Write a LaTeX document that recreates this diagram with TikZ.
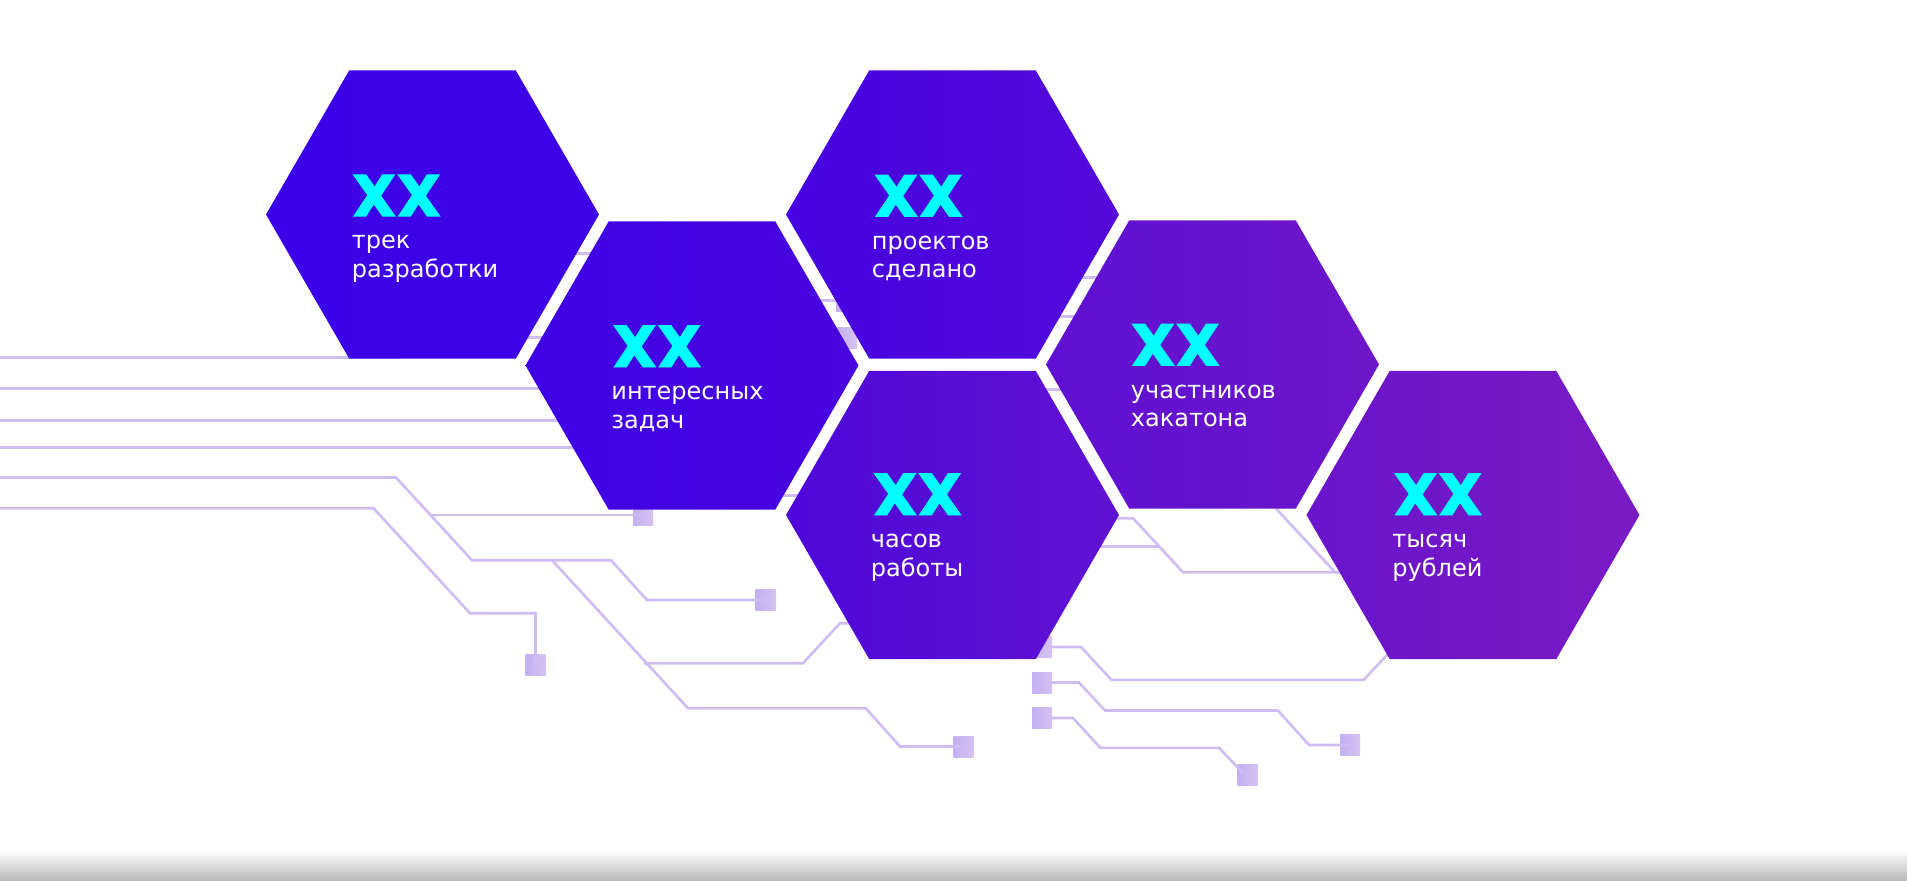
\documentclass[tikz,border=0pt]{standalone}
\usepackage{fontspec}
\setmainfont{DejaVu Sans}
\newfontfamily\numfont{Poppins}[BoldFeatures={FakeBold=1.6,FakeStretch=1.06}]
\usetikzlibrary{positioning,calc,backgrounds,shapes.geometric}
\definecolor{tracecol}{HTML}{CFBCF2}
\definecolor{padleft}{HTML}{C2B0F3}
\definecolor{padright}{HTML}{D6C2F1}
\definecolor{cyanxx}{HTML}{00FFFF}
\tikzset{
  hexa/.style    ={regular polygon,regular polygon sides=6,minimum size=166.5pt,
                   inner sep=0pt,outer sep=0pt},
  numtxt/.style  ={anchor=base west,inner sep=0pt,text=cyanxx,
                   font=\numfont\bfseries\fontsize{29.5}{29.5}\selectfont},
  captxt/.style  ={inner sep=0pt,text=white,align=left,
                   font=\fontsize{12}{14.35}\selectfont},
  padbox/.style  ={rectangle,inner sep=0pt,minimum width=10pt,minimum height=10.5pt,
                   left color=padleft,right color=padright},
  trace/.style   ={draw=tracecol,line width=1.3pt},
}

\begin{document}
\begin{tikzpicture}[x=.5pt,y=-.5pt]
\useasboundingbox (0,-.5) rectangle (1907,879.5);

% ---- hexagons ----------------------------------------------------------
\node[hexa,left color={rgb,255:red,60;green,0;blue,232},right color={rgb,255:red,62;green,0;blue,230}]  (H1) at (432.5,214) {};
\node[hexa,left color={rgb,255:red,63;green,0;blue,230},right color={rgb,255:red,74;green,6;blue,222}]  (H2) at (692,365) {};
\node[hexa,left color={rgb,255:red,70;green,4;blue,224},right color={rgb,255:red,84;green,9;blue,218}]  (H3) at (952.5,214) {};
\node[hexa,left color={rgb,255:red,79;green,8;blue,218},right color={rgb,255:red,96;green,18;blue,210}] (H4) at (952.5,514.5) {};
\node[hexa,left color={rgb,255:red,94;green,16;blue,210},right color={rgb,255:red,110;green,22;blue,202}] (H5) at (1212.5,364) {};
\node[hexa,left color={rgb,255:red,106;green,20;blue,204},right color={rgb,255:red,122;green,26;blue,196}] (H6) at (1473,514.5) {};

% ---- texts --------------------------------------------------------------
\node[numtxt] (N1) at ($(H1)+(-81,1.7)$) {XX};
\node[captxt,below right=9.2pt and 0pt of N1.south west] (C1) {трек\\разработки};
\node[numtxt] (N2) at ($(H2)+(-80,1.5)$) {XX};
\node[captxt,below right=9.2pt and -.5pt of N2.south west] (C2) {интересных\\задач};
\node[numtxt] (N3) at ($(H3)+(-79,2)$) {XX};
\node[captxt,below right=9.2pt and -1pt of N3.south west] (C3) {проектов\\сделано};
\node[numtxt] (N4) at ($(H4)+(-80,0)$) {XX};
\node[captxt,below right=9.2pt and -1pt of N4.south west] (C4) {часов\\работы};
\node[numtxt] (N5) at ($(H5)+(-82,1)$) {XX};
\node[captxt,below right=9.2pt and 0pt of N5.south west] (C5) {участников\\хакатона};
\node[numtxt] (N6) at ($(H6)+(-80,0)$) {XX};
\node[captxt,below right=9.2pt and -.5pt of N6.south west] (C6) {тысяч\\рублей};

\begin{scope}[on background layer]
% ---- bottom edge --------------------------------------------------------
\path[top color=white,bottom color=black!28] (0,850) rectangle (1907,880);

% ---- pads ---------------------------------------------------------------
\node[padbox] (P1)  at (643,514.5) {};
\node[padbox] (P2)  at (765.5,599.5) {};
\node[padbox] (P3)  at (535.5,664.5) {};
\node[padbox] (P4)  at (963.5,746) {};
\node[padbox] (P5)  at (1042,646.5) {};
\node[padbox] (P6)  at (1042,682) {};
\node[padbox] (P7)  at (1042,717.5) {};
\node[padbox] (P8)  at (1350,744.5) {};
\node[padbox] (P9)  at (1247.5,774) {};
\node[padbox] (P10) at (846,300.5) {};
\node[padbox] (P11) at (846.5,337.5) {};

% ---- free ends ----------------------------------------------------------
\coordinate (L1) at (0,357);
\coordinate (L2) at (0,387.7);
\coordinate (L3) at (0,420);
\coordinate (L4) at (0,447);
\coordinate (L5) at (0,477);
\coordinate (L6) at (0,507.7);
\coordinate (J1) at (431,514.5);
\coordinate (J2) at (552,559.7);
\coordinate (J3) at (644,662.7);
\coordinate (J4) at (1159.6,546);
\coordinate (J5) at (1335,571.7);

% ---- left traces --------------------------------------------------------
\draw[trace] (L1) -- (400,357);
\draw[trace] (L2) -- (600,387.7);
\draw[trace] (L3) -- (600,420);
\draw[trace] (L4) -- (600,447);
\draw[trace] (L5) -- (396,477) -- (472,559.7) -- (611,559.7) -- (647,599.5) -- (P2.center);
\draw[trace] (L6) -- (373.5,507.7) -- (470,612.7) -- (535.5,612.7) -- (P3.center);
\draw[trace] (J1) -- (P1.center);
\draw[trace] (J2) -- (688,707.7) -- (865.7,707.7) -- (900,746) -- (P4.center);
\draw[trace] (J3) -- (803,662.7) -- (840,622.7) -- (870,622.7);

% ---- right traces -------------------------------------------------------
\draw[trace] (1100,517.7) -- (1133,517.7) -- (1183,571.7) -- (1360,571.7);
\draw[trace] (1090,546) -- (J4);
\draw[trace] (1276,508) -- (J5);
\draw[trace] (P5.center) -- (1081,646.5) -- (1111.4,679.3) -- (1363.7,679.3) -- (1395,646);
\draw[trace] (P6.center) -- (1079,682) -- (1105,710) -- (1278,710) -- (1309,744.5) -- (P8.center);
\draw[trace] (P7.center) -- (1073,717.5) -- (1100.4,747.3) -- (1219,747.3) -- ($(P9.center)+(-4.5,-1.5)$);

% ---- stubs seen in the gaps ---------------------------------------------
\draw[trace] (520,337) -- (550,337);
\draw[trace] (570,252.7) -- (600,252.7);
\draw[trace] (810,299.5) -- (P10.center);
\draw[trace] (1050,315.7) -- (1085,315.7);
\draw[trace] (1070,277) -- (1105,277);
\draw[trace] (1040,389) -- (1070,389);
\draw[trace] (775,495) -- (805,495);
\end{scope}
\end{tikzpicture}
\end{document}
